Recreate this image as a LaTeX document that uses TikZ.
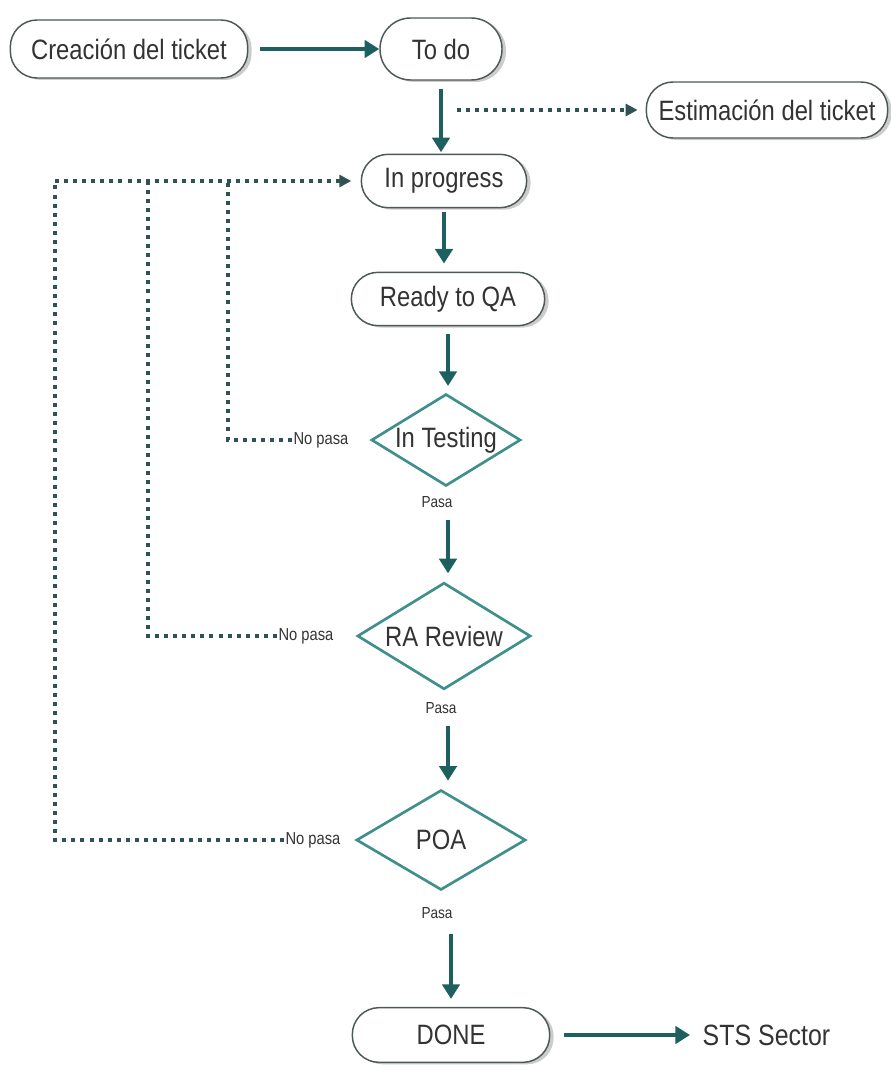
\documentclass[tikz,border=0pt]{standalone}
\usepackage{fontspec}
\setmainfont{Liberation Sans}[FakeStretch=0.85]
\usetikzlibrary{shapes.geometric,shadows,arrows.meta}
\definecolor{flow}{HTML}{1E5F60}
\definecolor{loop}{HTML}{2F5252}
\definecolor{rhomb}{HTML}{3F8F8C}
\definecolor{rim}{HTML}{4E5858}
\definecolor{ink}{HTML}{333333}
\tikzset{
  state/.style={draw=rim, line width=1.1pt, fill=white, rounded corners=20pt,
    inner sep=0pt, text=ink, font=\fontsize{21}{25}\selectfont,
    drop shadow={shadow xshift=3pt, shadow yshift=-1.5pt, opacity=0.4, fill=gray}},
  gate/.style={diamond, draw=rhomb, line width=2pt, fill=white, inner sep=0pt},
  gatetext/.style={text=ink, font=\fontsize{21}{25}\selectfont},
  go/.style={draw=flow, line width=3.6pt, -{Triangle[length=11pt,width=13pt]}},
  back/.style={draw=loop, line width=3pt, dash pattern=on 3pt off 3.8pt},
  backtip/.style={back, -{Triangle[length=9pt,width=9pt]}},
  small/.style={text=ink, inner sep=1pt, font=\fontsize{13}{15}\selectfont},
  tiny/.style={text=ink, inner sep=1pt, font=\fontsize{12}{14}\selectfont}
}
\begin{document}
\begin{tikzpicture}[x=0.75pt, y=-0.75pt]
\useasboundingbox (0,0) rectangle (891,1074);

% states of the ticket
\node[state, minimum width=178pt, minimum height=43.5pt] (crea) at (129,49) {Creación del ticket};
\node[state, minimum width=91.5pt, minimum height=46.5pt, rounded corners=23pt] (todo) at (441,49) {To do};
\node[state, minimum width=181pt, minimum height=42pt] (est) at (767,110) {Estimación del ticket};
\node[state, minimum width=124pt, minimum height=40pt] (prog) at (444,181) {In progress};
\node[state, minimum width=145pt, minimum height=40pt] (ready) at (448,299) {Ready to QA};
\node[state, minimum width=148pt, minimum height=41pt] (done) at (451,1035) {DONE};
\node[text=ink, font=\fontsize{22}{26}\selectfont, anchor=west] (sts) at (698,1035) {STS Sector};

% decision points
\node[gate, minimum width=112pt, minimum height=69pt, label={[gatetext]center:In Testing}] (test) at (446,440) {};
\node[gate, minimum width=130pt, minimum height=80pt, label={[gatetext]center:RA Review}] (rar) at (444,636) {};
\node[gate, minimum width=127pt, minimum height=75pt, label={[gatetext]center:POA}] (poa) at (441,840) {};

% outcome labels
\node[tiny] (p1) at (437,502) {Pasa};
\node[tiny] (p2) at (441,708) {Pasa};
\node[tiny] (p3) at (437,913) {Pasa};
\node[small] (n1) at (321,440) {No pasa};
\node[small] (n2) at (306,636) {No pasa};
\node[small] (n3) at (313,840) {No pasa};

% corners of the return loops
\coordinate (c1) at (55,181);
\coordinate (c2) at (148,181);
\coordinate (c3) at (228,181);
\coordinate (tap) at (457,110);

% main flow
\draw[go, shorten <=9pt] (crea.east) -- (todo.west);
\draw[go, shorten <=6pt, shorten >=1pt] (todo.south) -- (todo.south |- prog.north);
\draw[go, shorten <=3pt, shorten >=6pt] (prog.south) -- (prog.south |- ready.north);
\draw[go, shorten <=6pt, shorten >=5pt] (ready.south) -- (ready.south |- test.north);
\draw[go, shorten <=8pt, shorten >=6pt] (p1.south -| ready.south) -- (ready.south |- rar.north);
\draw[go, shorten <=8pt, shorten >=6pt] (p2.south -| ready.south) -- (ready.south |- poa.north);
\draw[go, shorten <=10pt, shorten >=6pt] (p3.south -| done.north) -- (done.north);
\draw[go, shorten <=10pt, shorten >=6pt] (done.east) -- (sts.west);

% estimation branch
\draw[backtip, shorten >=6pt] (tap) -- (est.west);

% return loops back to work in progress
\draw[back] (n1.west) -| (c3);
\draw[back] (n2.west) -| (c2);
\draw[back] (n3.west) -| (c1);
\draw[backtip, shorten >=7pt] (c1) -- (prog.west);
\end{tikzpicture}
\end{document}
